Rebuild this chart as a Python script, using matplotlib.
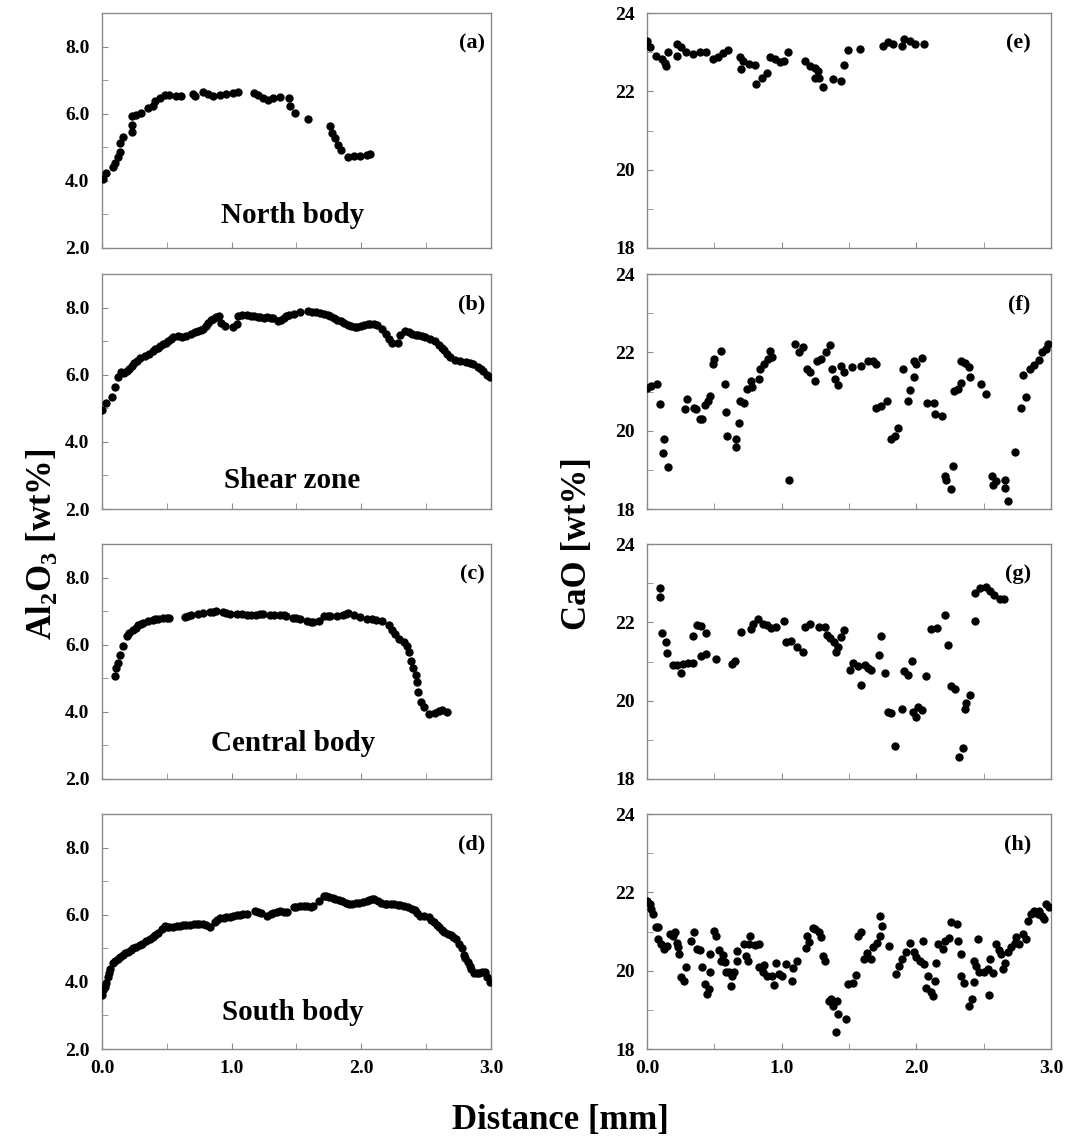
import matplotlib
matplotlib.use("Agg")
import matplotlib.pyplot as plt
from matplotlib.ticker import MultipleLocator, FormatStrFormatter

plt.rcParams['font.family'] = ['Liberation Serif', 'DejaVu Serif']
plt.rcParams['font.weight'] = 'bold'
plt.rcParams['mathtext.fontset'] = 'custom'
plt.rcParams['mathtext.rm'] = 'Liberation Serif:bold'
plt.rcParams['mathtext.bf'] = 'Liberation Serif:bold'

# ---- Al2O3 profiles (left column) ----
a_x = [0.01, 0.03, 0.085, 0.10, 0.12, 0.14, 0.14, 0.16, 0.23, 0.23, 0.23, 0.265, 0.30, 0.355,
       0.39, 0.41, 0.445, 0.485, 0.52, 0.57, 0.61, 0.70, 0.72, 0.78, 0.82, 0.86, 0.91, 0.96,
       1.01, 1.05, 1.17, 1.205, 1.245, 1.28, 1.32, 1.37, 1.44, 1.45, 1.49, 1.59, 1.76, 1.77,
       1.80, 1.82, 1.84, 1.90, 1.94, 1.99, 2.04, 2.07]
a_y = [4.07, 4.22, 4.42, 4.52, 4.72, 4.87, 5.12, 5.32, 5.47, 5.67, 5.92, 5.97, 6.02, 6.17,
       6.22, 6.37, 6.47, 6.57, 6.55, 6.54, 6.54, 6.59, 6.52, 6.64, 6.59, 6.52, 6.57, 6.60,
       6.62, 6.65, 6.62, 6.57, 6.47, 6.42, 6.47, 6.50, 6.47, 6.24, 6.02, 5.84, 5.64, 5.42,
       5.27, 5.07, 4.92, 4.72, 4.74, 4.74, 4.77, 4.80]

b_x = [0.0, 0.03, 0.08, 0.10, 0.12, 0.15, 0.17, 0.19, 0.21, 0.23, 0.25, 0.27, 0.29, 0.33,
       0.36, 0.39, 0.41, 0.43, 0.45, 0.47, 0.49, 0.51, 0.53, 0.55, 0.59, 0.62, 0.65, 0.69,
       0.72, 0.74, 0.76, 0.78, 0.80, 0.82, 0.84, 0.86, 0.88, 0.90, 0.92, 0.95, 1.01, 1.04,
       1.05, 1.08, 1.12, 1.15, 1.17, 1.20, 1.22, 1.25, 1.27, 1.30, 1.32, 1.36, 1.38, 1.40,
       1.42, 1.44, 1.48, 1.53, 1.59, 1.62, 1.65, 1.68, 1.71, 1.74, 1.76, 1.79, 1.81, 1.84,
       1.87, 1.90, 1.92, 1.95, 1.97, 2.00, 2.02, 2.05, 2.07, 2.10, 2.12, 2.16, 2.19, 2.21,
       2.24, 2.28, 2.30, 2.34, 2.37, 2.39, 2.42, 2.44, 2.47, 2.49, 2.53, 2.57, 2.60, 2.62,
       2.64, 2.66, 2.68, 2.72, 2.76, 2.81, 2.84, 2.86, 2.90, 2.92, 2.94, 2.97, 2.99]
b_y = [4.96, 5.16, 5.33, 5.64, 5.92, 6.07, 6.06, 6.10, 6.18, 6.27, 6.35, 6.42, 6.50, 6.56,
       6.63, 6.71, 6.76, 6.80, 6.85, 6.91, 6.96, 7.01, 7.08, 7.13, 7.15, 7.12, 7.15, 7.23,
       7.27, 7.31, 7.34, 7.38, 7.46, 7.54, 7.62, 7.67, 7.72, 7.76, 7.54, 7.45, 7.43, 7.52,
       7.76, 7.78, 7.79, 7.76, 7.74, 7.72, 7.72, 7.70, 7.71, 7.70, 7.69, 7.59, 7.63, 7.69,
       7.74, 7.79, 7.81, 7.86, 7.91, 7.88, 7.86, 7.84, 7.82, 7.78, 7.74, 7.68, 7.64, 7.59,
       7.54, 7.48, 7.45, 7.42, 7.43, 7.46, 7.48, 7.50, 7.52, 7.50, 7.48, 7.38, 7.23, 7.08,
       6.95, 6.95, 7.18, 7.31, 7.27, 7.23, 7.20, 7.18, 7.15, 7.13, 7.08, 7.01, 6.88, 6.80,
       6.73, 6.63, 6.53, 6.44, 6.40, 6.37, 6.35, 6.32, 6.22, 6.18, 6.12, 6.00, 5.94]

c_x = [0.10, 0.105, 0.12, 0.14, 0.16, 0.19, 0.21, 0.24, 0.26, 0.28, 0.30, 0.32, 0.355, 0.39,
       0.41, 0.43, 0.47, 0.50, 0.52, 0.64, 0.66, 0.69, 0.74, 0.78, 0.83, 0.86, 0.88, 0.935,
       0.96, 0.99, 1.04, 1.08, 1.115, 1.15, 1.19, 1.22, 1.245, 1.295, 1.33, 1.37, 1.40, 1.42,
       1.475, 1.50, 1.53, 1.58, 1.61, 1.63, 1.67, 1.71, 1.74, 1.76, 1.81, 1.86, 1.88, 1.90,
       1.94, 1.99, 2.04, 2.08, 2.11, 2.16, 2.21, 2.235, 2.26, 2.29, 2.33, 2.35, 2.37, 2.38,
       2.40, 2.42, 2.43, 2.44, 2.46, 2.48, 2.52, 2.57, 2.60, 2.62, 2.66]
c_y = [5.08, 5.30, 5.45, 5.70, 5.95, 6.25, 6.35, 6.45, 6.50, 6.58, 6.62, 6.65, 6.70, 6.75,
       6.76, 6.78, 6.80, 6.80, 6.80, 6.82, 6.85, 6.88, 6.92, 6.95, 6.98, 6.99, 7.00, 6.97,
       6.95, 6.92, 6.92, 6.91, 6.90, 6.90, 6.90, 6.91, 6.92, 6.90, 6.90, 6.90, 6.88, 6.85,
       6.80, 6.79, 6.78, 6.72, 6.69, 6.68, 6.72, 6.85, 6.86, 6.87, 6.85, 6.88, 6.92, 6.95,
       6.88, 6.82, 6.78, 6.76, 6.75, 6.72, 6.60, 6.45, 6.32, 6.18, 6.08, 5.95, 5.78, 5.52,
       5.30, 5.10, 4.90, 4.60, 4.30, 4.15, 3.95, 3.98, 4.03, 4.05, 4.00]

d_x = [0.0, 0.01, 0.02, 0.03, 0.045, 0.055, 0.065, 0.085, 0.10, 0.12, 0.14, 0.16, 0.18, 0.20,
       0.22, 0.24, 0.26, 0.29, 0.31, 0.34, 0.37, 0.395, 0.41, 0.43, 0.46, 0.485, 0.50, 0.52,
       0.55, 0.575, 0.60, 0.625, 0.65, 0.68, 0.71, 0.73, 0.75, 0.78, 0.80, 0.83, 0.87, 0.89,
       0.91, 0.94, 0.96, 0.99, 1.01, 1.04, 1.065, 1.09, 1.12, 1.18, 1.20, 1.23, 1.27, 1.30,
       1.32, 1.35, 1.375, 1.40, 1.43, 1.48, 1.50, 1.53, 1.56, 1.58, 1.61, 1.63, 1.67, 1.71,
       1.73, 1.75, 1.78, 1.80, 1.83, 1.85, 1.88, 1.905, 1.93, 1.955, 1.98, 2.01, 2.04, 2.06,
       2.08, 2.10, 2.13, 2.15, 2.18, 2.20, 2.23, 2.25, 2.28, 2.30, 2.33, 2.36, 2.39, 2.41,
       2.43, 2.45, 2.485, 2.52, 2.54, 2.56, 2.58, 2.60, 2.62, 2.64, 2.67, 2.69, 2.71, 2.73,
       2.755, 2.78, 2.79, 2.80, 2.82, 2.835, 2.845, 2.87, 2.89, 2.91, 2.93, 2.95, 2.97, 2.99]
d_y = [3.62, 3.76, 3.86, 3.96, 4.16, 4.28, 4.40, 4.57, 4.62, 4.67, 4.74, 4.80, 4.85, 4.90,
       4.95, 5.00, 5.04, 5.09, 5.14, 5.21, 5.27, 5.34, 5.40, 5.46, 5.59, 5.66, 5.63, 5.64,
       5.65, 5.66, 5.68, 5.70, 5.70, 5.71, 5.72, 5.73, 5.72, 5.73, 5.70, 5.64, 5.78, 5.84,
       5.90, 5.92, 5.93, 5.95, 5.98, 5.99, 6.00, 6.01, 6.03, 6.10, 6.08, 6.05, 5.98, 6.02,
       6.05, 6.08, 6.10, 6.09, 6.08, 6.23, 6.24, 6.25, 6.25, 6.25, 6.24, 6.25, 6.42, 6.57,
       6.55, 6.52, 6.49, 6.47, 6.45, 6.42, 6.36, 6.31, 6.33, 6.34, 6.36, 6.37, 6.40, 6.44,
       6.46, 6.47, 6.40, 6.34, 6.33, 6.32, 6.31, 6.31, 6.29, 6.28, 6.26, 6.23, 6.17, 6.13,
       6.05, 5.98, 5.98, 5.93, 5.86, 5.78, 5.71, 5.64, 5.56, 5.49, 5.43, 5.39, 5.34, 5.29,
       5.14, 5.00, 4.80, 4.70, 4.60, 4.48, 4.40, 4.26, 4.27, 4.28, 4.30, 4.31, 4.16, 4.01]

# ---- CaO profiles (right column) ----
e_x = [0.0, 0.02, 0.07, 0.11, 0.13, 0.14, 0.155, 0.22, 0.22, 0.255, 0.29, 0.34, 0.39, 0.44,
       0.49, 0.53, 0.565, 0.60, 0.69, 0.70, 0.71, 0.76, 0.80, 0.81, 0.85, 0.89, 0.91, 0.95,
       0.99, 1.02, 1.05, 1.17, 1.21, 1.245, 1.27, 1.245, 1.28, 1.31, 1.38, 1.44, 1.46, 1.49,
       1.585, 1.75, 1.79, 1.83, 1.89, 1.91, 1.95, 1.99, 2.06]
e_y = [23.30, 23.13, 22.91, 22.83, 22.72, 22.65, 23.00, 23.21, 22.91, 23.13, 23.00, 22.95,
       23.01, 23.00, 22.84, 22.89, 22.98, 23.07, 22.89, 22.57, 22.78, 22.70, 22.67, 22.18,
       22.34, 22.47, 22.87, 22.83, 22.74, 22.78, 23.00, 22.78, 22.65, 22.59, 22.53, 22.35,
       22.33, 22.12, 22.31, 22.27, 22.67, 23.07, 23.08, 23.17, 23.25, 23.21, 23.17, 23.34,
       23.30, 23.21, 23.21]

f_x = [0.0, 0.03, 0.075, 0.10, 0.125, 0.12, 0.155, 0.28, 0.30, 0.35, 0.36, 0.39, 0.41, 0.43,
       0.45, 0.47, 0.49, 0.50, 0.55, 0.58, 0.59, 0.595, 0.66, 0.66, 0.68, 0.69, 0.72, 0.74,
       0.77, 0.78, 0.83, 0.84, 0.87, 0.90, 0.91, 0.93, 1.055, 1.10, 1.125, 1.16, 1.185, 1.21,
       1.25, 1.26, 1.295, 1.33, 1.36, 1.37, 1.395, 1.415, 1.44, 1.46, 1.52, 1.59, 1.64, 1.68,
       1.70, 1.70, 1.74, 1.78, 1.815, 1.84, 1.865, 1.90, 1.94, 1.95, 1.98, 1.98, 2.00, 2.04,
       2.08, 2.13, 2.14, 2.19, 2.21, 2.22, 2.27, 2.26, 2.28, 2.31, 2.33, 2.33, 2.36, 2.39,
       2.40, 2.48, 2.52, 2.56, 2.57, 2.59, 2.66, 2.66, 2.68, 2.73, 2.78, 2.79, 2.815, 2.84,
       2.87, 2.91, 2.93, 2.96, 2.98]
f_y = [21.10, 21.15, 21.19, 20.68, 19.78, 19.44, 19.07, 20.56, 20.80, 20.59, 20.55, 20.29,
       20.29, 20.66, 20.76, 20.89, 21.70, 21.83, 22.03, 21.19, 20.49, 19.86, 19.78, 19.58,
       20.21, 20.76, 20.72, 21.06, 21.27, 21.12, 21.32, 21.57, 21.70, 21.83, 22.03, 21.89,
       18.75, 22.21, 22.00, 22.15, 21.57, 21.49, 21.26, 21.77, 21.83, 22.00, 22.20, 21.57,
       21.32, 21.17, 21.66, 21.49, 21.62, 21.66, 21.79, 21.79, 21.70, 20.57, 20.63, 20.76,
       19.80, 19.86, 20.08, 21.57, 20.76, 21.03, 21.38, 21.79, 21.70, 21.85, 20.72, 20.72,
       20.44, 20.38, 18.84, 18.75, 19.09, 18.50, 21.02, 21.06, 21.23, 21.79, 21.72, 21.62,
       21.36, 21.19, 20.93, 18.84, 18.62, 18.71, 18.75, 18.54, 18.20, 19.46, 20.57, 21.43,
       20.86, 21.57, 21.68, 21.80, 22.00, 22.09, 22.21]

g_x = [0.094, 0.10, 0.11, 0.14, 0.15, 0.19, 0.22, 0.255, 0.27, 0.305, 0.34, 0.34, 0.37, 0.40,
       0.44, 0.40, 0.44, 0.515, 0.63, 0.65, 0.70, 0.775, 0.79, 0.825, 0.86, 0.89, 0.92, 0.96,
       1.02, 1.035, 1.07, 1.11, 1.16, 1.17, 1.21, 1.28, 1.32, 1.34, 1.36, 1.39, 1.40, 1.42,
       1.44, 1.46, 1.51, 1.53, 1.57, 1.59, 1.62, 1.64, 1.66, 1.72, 1.74, 1.765, 1.79, 1.81,
       1.84, 1.89, 1.91, 1.94, 1.965, 1.975, 2.00, 2.01, 2.04, 2.07, 2.11, 2.155, 2.21, 2.235,
       2.26, 2.285, 2.32, 2.345, 2.36, 2.37, 2.40, 2.435, 2.435, 2.47, 2.52, 2.55, 2.58, 2.62,
       2.65]
g_y = [22.89, 22.64, 21.72, 21.51, 21.21, 20.91, 20.91, 20.71, 20.94, 20.97, 20.95, 21.65,
       21.93, 21.91, 21.74, 21.14, 21.19, 21.06, 20.93, 21.02, 21.76, 21.82, 21.96, 22.08,
       21.97, 21.93, 21.85, 21.89, 22.04, 21.51, 21.53, 21.38, 21.25, 21.89, 21.96, 21.89,
       21.89, 21.68, 21.59, 21.51, 21.25, 21.38, 21.62, 21.80, 20.78, 20.95, 20.89, 20.40,
       20.91, 20.83, 20.78, 21.17, 21.66, 20.70, 19.72, 19.68, 18.83, 19.78, 20.77, 20.66,
       21.02, 19.72, 19.59, 19.83, 19.76, 20.63, 21.82, 21.85, 22.19, 21.42, 20.37, 20.31,
       18.57, 18.78, 19.80, 19.93, 20.14, 22.04, 22.74, 22.87, 22.91, 22.81, 22.70, 22.61,
       22.59]

h_x = [0.0, 0.02, 0.03, 0.045, 0.065, 0.08, 0.08, 0.105, 0.125, 0.145, 0.17, 0.19, 0.21, 0.225,
       0.23, 0.24, 0.255, 0.275, 0.29, 0.33, 0.35, 0.37, 0.39, 0.41, 0.43, 0.445, 0.46, 0.47,
       0.47, 0.50, 0.51, 0.535, 0.55, 0.565, 0.58, 0.59, 0.61, 0.62, 0.63, 0.645, 0.67, 0.67,
       0.72, 0.735, 0.75, 0.76, 0.765, 0.80, 0.83, 0.83, 0.86, 0.865, 0.89, 0.925, 0.945, 0.96,
       0.98, 1.0, 1.035, 1.075, 1.085, 1.11, 1.18, 1.185, 1.205, 1.23, 1.25, 1.28, 1.295, 1.31,
       1.32, 1.35, 1.365, 1.38, 1.40, 1.41, 1.42, 1.48, 1.49, 1.53, 1.555, 1.57, 1.59, 1.61,
       1.63, 1.66, 1.68, 1.71, 1.73, 1.73, 1.745, 1.795, 1.845, 1.87, 1.895, 1.92, 1.955, 1.985,
       2.0, 2.03, 2.05, 2.06, 2.085, 2.075, 2.105, 2.125, 2.14, 2.145, 2.16, 2.195, 2.21, 2.24,
       2.255, 2.30, 2.31, 2.33, 2.33, 2.355, 2.39, 2.41, 2.425, 2.43, 2.44, 2.46, 2.465, 2.50,
       2.53, 2.54, 2.55, 2.57, 2.59, 2.61, 2.63, 2.64, 2.66, 2.68, 2.70, 2.73, 2.74, 2.765,
       2.79, 2.815, 2.83, 2.85, 2.87, 2.90, 2.91, 2.935, 2.95, 2.96, 2.985]
h_y = [21.79, 21.70, 21.57, 21.45, 21.13, 21.11, 20.81, 20.68, 20.55, 20.64, 20.94, 20.89,
       20.98, 20.72, 20.60, 20.43, 19.83, 19.74, 20.09, 20.77, 20.98, 20.55, 20.54, 20.09,
       19.66, 19.40, 19.53, 20.43, 19.97, 21.02, 20.89, 20.54, 20.26, 20.40, 20.23, 19.97,
       19.96, 19.60, 19.87, 19.97, 20.51, 20.26, 20.68, 20.38, 20.26, 20.68, 20.89, 20.66,
       20.68, 20.09, 19.96, 20.14, 19.87, 19.87, 19.63, 20.21, 19.91, 19.86, 20.17, 19.73,
       20.06, 20.26, 20.57, 20.89, 20.74, 21.08, 21.06, 20.98, 20.85, 20.38, 20.26, 19.23,
       19.28, 19.11, 18.43, 19.23, 18.89, 18.77, 19.66, 19.69, 19.89, 20.89, 20.98, 20.30,
       20.45, 20.30, 20.60, 20.72, 20.89, 21.40, 21.15, 20.62, 19.91, 20.13, 20.30, 20.47,
       20.72, 20.47, 20.34, 20.26, 20.77, 20.17, 19.87, 19.57, 19.45, 19.36, 19.74, 20.21,
       20.68, 20.55, 20.77, 20.83, 21.25, 21.19, 20.77, 20.43, 19.87, 19.69, 19.11, 19.29,
       19.70, 20.26, 20.13, 20.81, 19.96, 19.96, 20.04, 19.38, 20.31, 19.93, 20.68, 20.54,
       20.43, 20.04, 20.21, 20.47, 20.60, 20.72, 20.85, 20.68, 20.94, 20.81, 21.28, 21.45,
       21.53, 21.45, 21.53, 21.40, 21.32, 21.70, 21.62]

left_data = [(a_x, a_y), (b_x, b_y), (c_x, c_y), (d_x, d_y)]
right_data = [(e_x, e_y), (f_x, f_y), (g_x, g_y), (h_x, h_y)]
left_tags = ['(a)', '(b)', '(c)', '(d)']
right_tags = ['(e)', '(f)', '(g)', '(h)']
zone_names = ['North body', 'Shear zone', 'Central body', 'South body']
zone_y = [0.14, 0.12, 0.15, 0.155]

fig = plt.figure(figsize=(10.7, 11.4), dpi=100)
row_bottoms = [0.7825, 0.5535, 0.3167, 0.0798]
row_h = 0.206
spine_col = '#8a8a8a'


def style_axis(ax, show_x):
    for s in ax.spines.values():
        s.set_color(spine_col)
        s.set_linewidth(1.0)
    ax.set_xlim(0, 3.0)
    ax.xaxis.set_major_locator(MultipleLocator(1.0))
    ax.xaxis.set_minor_locator(MultipleLocator(0.5))
    ax.xaxis.set_major_formatter(FormatStrFormatter('%.1f'))
    ax.tick_params(which='both', direction='in', length=4, color=spine_col,
                   top=False, right=False, labelsize=14)
    ax.tick_params(axis='y', pad=9)
    ax.tick_params(axis='x', pad=8, labelbottom=show_x)


for i, (xs, ys) in enumerate(left_data):
    ax = fig.add_axes([0.0953, row_bottoms[i], 0.3636, row_h])
    ax.scatter(xs, ys, s=36, color='black', linewidths=0, zorder=3)
    style_axis(ax, i == 3)
    ax.set_ylim(2.0, 9.0)
    ax.yaxis.set_major_locator(MultipleLocator(2.0))
    ax.yaxis.set_minor_locator(MultipleLocator(1.0))
    ax.yaxis.set_major_formatter(FormatStrFormatter('%.1f'))
    ax.text(0.985, 0.915, left_tags[i], transform=ax.transAxes, ha='right', va='top',
            fontsize=16, fontweight='bold')
    ax.text(0.49, zone_y[i], zone_names[i], transform=ax.transAxes, ha='center',
            va='center', fontsize=21, fontweight='bold')

for i, (xs, ys) in enumerate(right_data):
    ax = fig.add_axes([0.6047, row_bottoms[i], 0.3776, row_h])
    ax.scatter(xs, ys, s=36, color='black', linewidths=0, zorder=3)
    style_axis(ax, i == 3)
    ax.set_ylim(18, 24)
    ax.yaxis.set_major_locator(MultipleLocator(2))
    ax.yaxis.set_minor_locator(MultipleLocator(1))
    ax.yaxis.set_major_formatter(FormatStrFormatter('%d'))
    ax.text(0.95, 0.915, right_tags[i], transform=ax.transAxes, ha='right', va='top',
            fontsize=16, fontweight='bold')

fig.text(0.039, 0.523, r'Al$_{2}$O$_{3}$ [wt%]', rotation=90, ha='center', va='center',
         fontsize=25, fontweight='bold')
fig.text(0.54, 0.523, 'CaO [wt%]', rotation=90, ha='center', va='center',
         fontsize=25, fontweight='bold')
fig.text(0.524, 0.017, 'Distance [mm]', ha='center', va='center',
         fontsize=25, fontweight='bold')

fig.savefig('out.png', dpi=100)
